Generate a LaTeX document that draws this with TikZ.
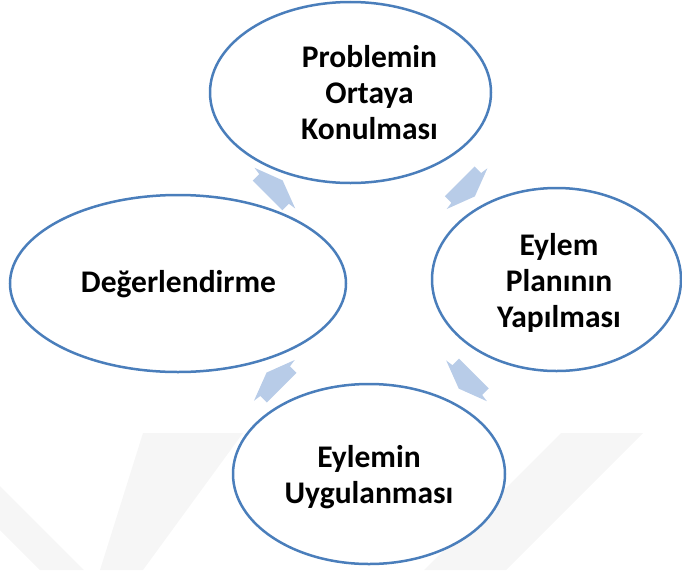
\documentclass[tikz,border=0pt]{standalone}
\usepackage{fontspec}
\setmainfont{Carlito}
\usetikzlibrary{shapes.geometric}
\definecolor{ellline}{RGB}{74,126,187}
\definecolor{arrfill}{RGB}{184,204,232}
\definecolor{wmark}{RGB}{246,246,246}
\newcommand{\cycarrow}[3]{%
  \begin{scope}[shift={#1},#2]
    \fill[arrfill] (0,-21) -- (9.3,-21) -- (10.4,-28.8) -- (21.4,0) -- (10.4,28.8) -- (9.3,21) -- (0,21) -- cycle;
    \coordinate (#3) at (10,0);
  \end{scope}}
\begin{document}
\begin{tikzpicture}[x=1pt,y=-1pt,
  ell/.style={draw=ellline, line width=2.5pt, fill=white, ellipse, inner sep=0pt},
  lbl/.style={font=\fontsize{31.5}{36}\selectfont\bfseries, align=center, text=black}]
\useasboundingbox (0,0) rectangle (682,570);
% faint watermark
\fill[wmark] (0,486) -- (84,570) -- (40,570) -- (0,530) -- cycle;
\fill[wmark] (143,433) -- (243,433) -- (143,570) -- (100,570) -- cycle;
\fill[wmark] (561,433) -- (643,433) -- (506,570) -- (424,570) -- cycle;
% arrows
\cycarrow{(267.5,195.5)}{x={(0.707pt,0.707pt)},y={(0.707pt,-0.707pt)}}{a1}
\cycarrow{(459.7,181.3)}{x={(0.707pt,-0.707pt)},y={(-0.707pt,-0.707pt)}}{a2}
\cycarrow{(473.9,373.5)}{x={(-0.707pt,-0.707pt)},y={(-0.707pt,0.707pt)}}{a3}
\cycarrow{(281.7,387.7)}{x={(-0.707pt,0.707pt)},y={(0.707pt,0.707pt)}}{a4}
% ellipses
\node[ell, minimum width=281pt, minimum height=181pt] (top) at (350.5,92.5) {};
\node[ell, minimum width=249pt, minimum height=183pt] (right) at (556.5,279.5) {};
\node[ell, minimum width=272pt, minimum height=180pt] (bottom) at (369,474) {};
\node[ell, minimum width=336pt, minimum height=177pt] (left) at (178,283.5) {};
% labels
\node[lbl] (ttop) at (369.5,93) {Problemin\\Ortaya\\Konulması};
\node[lbl] (tright) at (559,283) {Eylem\\Planının\\Yapılması};
\node[lbl] (tbottom) at (369,477.5) {Eylemin\\Uygulanması};
\node[lbl] (tleft) at (178.5,284) {Değerlendirme};
\end{tikzpicture}
\end{document}
